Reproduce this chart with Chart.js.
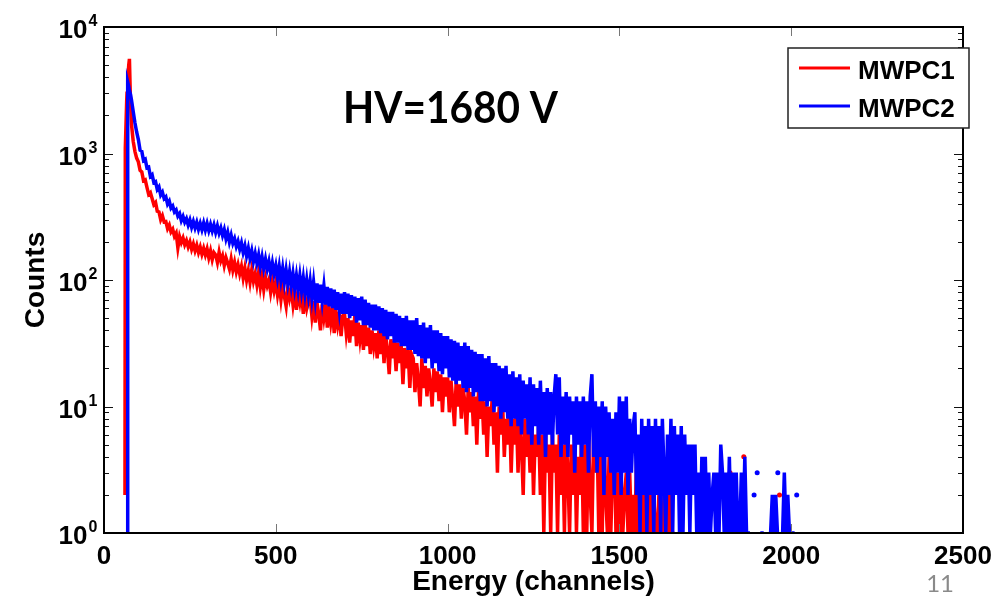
<!DOCTYPE html>
<html>
<head>
<meta charset="utf-8">
<script src="https://cdn.jsdelivr.net/npm/chart.js@4.4.1/dist/chart.umd.min.js"></script>
<style>
    html, body { margin: 0; padding: 0; background: #ffffff; }
    canvas { display: block; }
</style>
</head>
<body>
<canvas id="spectrum" width="1008" height="598"></canvas>
<script>
// channel grid (energy in channels), finer around the peak, then every 5 channels
const channels = [
    61, 62, 66, 67, 69, 72, 74, 77, 80, 85, 90, 95,
    100, 105, 110, 115, 120, 125, 130, 135, 140, 145, 150, 155, 160, 165, 170, 175, 180, 185, 190, 195,
    200, 205, 210, 215, 220, 225, 230, 235, 240, 245, 250, 255, 260, 265, 270, 275, 280, 285, 290, 295,
    300, 305, 310, 315, 320, 325, 330, 335, 340, 345, 350, 355, 360, 365, 370, 375, 380, 385, 390, 395,
    400, 405, 410, 415, 420, 425, 430, 435, 440, 445, 450, 455, 460, 465, 470, 475, 480, 485, 490, 495,
    500, 505, 510, 515, 520, 525, 530, 535, 540, 545, 550, 555, 560, 565, 570, 575, 580, 585, 590, 595,
    600, 605, 610, 615, 620, 625, 630, 635, 640, 645, 650, 655, 660, 665, 670, 675, 680, 685, 690, 695,
    700, 705, 710, 715, 720, 725, 730, 735, 740, 745, 750, 755, 760, 765, 770, 775, 780, 785, 790, 795,
    800, 805, 810, 815, 820, 825, 830, 835, 840, 845, 850, 855, 860, 865, 870, 875, 880, 885, 890, 895,
    900, 905, 910, 915, 920, 925, 930, 935, 940, 945, 950, 955, 960, 965, 970, 975, 980, 985, 990, 995,
    1000, 1005, 1010, 1015, 1020, 1025, 1030, 1035, 1040, 1045, 1050, 1055, 1060, 1065, 1070, 1075, 1080, 1085, 1090, 1095,
    1100, 1105, 1110, 1115, 1120, 1125, 1130, 1135, 1140, 1145, 1150, 1155, 1160, 1165, 1170, 1175, 1180, 1185, 1190, 1195,
    1200, 1205, 1210, 1215, 1220, 1225, 1230, 1235, 1240, 1245, 1250, 1255, 1260, 1265, 1270, 1275, 1280, 1285, 1290, 1295,
    1300, 1305, 1310, 1315, 1320, 1325, 1330, 1335, 1340, 1345, 1350, 1355, 1360, 1365, 1370, 1375, 1380, 1385, 1390, 1395,
    1400, 1405, 1410, 1415, 1420, 1425, 1430, 1435, 1440, 1445, 1450, 1455, 1460, 1465, 1470, 1475, 1480, 1485, 1490, 1495,
    1500, 1505, 1510, 1515, 1520, 1525, 1530, 1535, 1540, 1545, 1550, 1555, 1560, 1565, 1570, 1575, 1580, 1585, 1590, 1595,
    1600, 1605, 1610, 1615, 1620, 1625, 1630, 1635, 1640, 1645, 1650, 1655, 1660, 1665, 1670, 1675, 1680, 1685, 1690, 1695,
    1700, 1705, 1710, 1715, 1720, 1725, 1730, 1735, 1740, 1745, 1750, 1755, 1760, 1765, 1770, 1775, 1780, 1785, 1790, 1795,
    1800, 1805, 1810, 1815, 1820, 1825, 1830, 1835, 1840, 1845, 1850, 1855, 1860, 1865, 1870, 1875, 1880, 1885, 1890, 1895,
    1900, 1905, 1910, 1915, 1920, 1925, 1930, 1935, 1940, 1945, 1950, 1955, 1960, 1965, 1970, 1975, 1980, 1985, 1990, 1995,
    2000, 2005, 2010, 2015, 2020
];

// MWPC1 counts per channel
const mwpc1 = [
    2, 1100, 2600, 3000, 3800, 5000, 5600, 2600, 1700, 1250, 1040, 920,
    860, 735, 715, 610, 620, 540, 475, 490, 440, 395, 410, 350, 345, 300, 322, 288, 290, 255, 272, 240,
    252, 222, 235, 180, 220, 198, 215, 190, 205, 183, 200, 175, 193, 170, 188, 165, 182, 160, 178, 158,
    176, 150, 170, 145, 165, 158, 138, 166, 142, 155, 130, 150, 136, 122, 146, 120, 138, 116, 132, 112,
    128, 104, 124, 100, 118, 96, 120, 98, 112, 92, 114, 88, 108, 84, 104, 90, 100, 80, 98, 82,
    96, 76, 92, 70, 90, 74, 62, 88, 72, 84, 64, 82, 58, 78, 66, 80, 54, 74, 60, 70,
    72, 52, 68, 46, 66, 54, 40, 64, 50, 62, 42, 60, 46, 58, 38, 56, 44, 54, 36, 52,
    54, 38, 50, 32, 48, 36, 52, 30, 46, 34, 44, 28, 46, 30, 42, 26, 40, 30, 38, 24,
    40, 26, 38, 22, 36, 28, 18, 34, 24, 33, 19, 32, 22, 30, 15, 29, 20, 28, 14, 26,
    24, 13, 22, 16, 10, 24, 14, 21, 12, 20, 15, 10, 20, 13, 19, 11, 18, 9, 17, 12,
    17, 9, 16, 11, 7, 16, 10, 15, 8, 14, 11, 6, 14, 9, 13, 7, 12, 5, 13, 8,
    12, 6, 11, 4, 10, 7, 12, 5, 9, 3, 10, 6, 11, 4, 8, 5, 10, 3, 8, 5,
    9, 3, 8, 5, 2, 8, 4, 7, 3, 8, 2, 6, 4, 7, 2, 6, 1, 6, 3, 5,
    1, 6, 3, 5, 1, 6, 2, 5, 1, 6, 3, 1, 5, 2, 6, 1, 4, 2, 6, 1,
    5, 1, 6, 2, 1, 6, 3, 6, 1, 5, 1, 6, 2, 1, 4, 1, 3, 6, 1, 3,
    1, 3, 1, 2, 3, 1, 3, 1, 2, 1, 4, 1, 2, 1, 3, 1, 2, 1, 2, 1,
    2, 1, 1, 2, 1, 1, 2, 1, 1, 2, 1, 1, 1, null, null, null, null, null, null, null,
    null, null, null, null, null, null, null, null, null, null, null, null, null, null, null, null, null, null, null, null,
    null, null, null, null, null, null, null, null, null, null, null, null, null, null, null, null, null, null, null, null,
    null, null, null, null, null, null, null, null, null, null, null, null, null, null, null, null, null, null, null, null,
    null, null, null, null, null
];

// MWPC2 counts per channel
const mwpc2 = [
    null, null, null, 1, 3670, 3400, 3150, 2950, 2650, 2150, 1750, 1480,
    1290, 1060, 1040, 880, 900, 770, 780, 660, 680, 590, 600, 520, 545, 470, 495, 440, 455, 398, 420, 370,
    385, 345, 358, 320, 335, 295, 318, 286, 305, 272, 298, 262, 290, 258, 286, 252, 280, 250, 282, 248,
    280, 246, 275, 244, 272, 238, 268, 235, 258, 225, 250, 212, 238, 200, 226, 195, 212, 184, 202, 175,
    196, 165, 186, 155, 178, 148, 170, 140, 162, 136, 158, 128, 152, 124, 146, 122, 140, 114, 136, 112,
    130, 104, 128, 100, 124, 96, 120, 94, 116, 90, 112, 86, 108, 84, 108, 82, 104, 78, 100, 76,
    98, 72, 96, 70, 94, 66, 92, 68, 90, 64, 88, 62, 86, 60, 84, 58, 80, 58, 78, 54,
    80, 54, 78, 50, 76, 52, 74, 46, 72, 48, 74, 44, 70, 44, 66, 42, 64, 40, 64, 40,
    62, 38, 60, 36, 58, 34, 56, 36, 56, 32, 54, 32, 52, 30, 50, 30, 52, 28, 48, 28,
    48, 26, 50, 25, 44, 24, 46, 22, 42, 24, 44, 20, 40, 22, 40, 19, 38, 18, 36, 20,
    36, 17, 34, 16, 33, 15, 32, 16, 30, 14, 32, 13, 30, 14, 28, 12, 27, 13, 26, 11,
    26, 11, 24, 10, 25, 11, 22, 9, 22, 10, 21, 8, 20, 9, 21, 8, 18, 7, 19, 8,
    17, 7, 18, 6, 16, 8, 15, 6, 17, 5, 15, 7, 14, 5, 16, 6, 13, 4, 14, 6,
    13, 5, 12, 18, 6, 17, 4, 12, 5, 13, 4, 12, 6, 11, 3, 12, 5, 11, 4, 12,
    5, 11, 3, 12, 18, 4, 11, 3, 10, 4, 11, 2, 10, 4, 9, 3, 8, 2, 9, 3,
    12, 2, 11, 3, 12, 2, 8, 3, 7, 9, 2, 6, 1, 8, 2, 7, 1, 8, 2, 7,
    1, 8, 2, 7, 1, 8, 3, 1, 6, 2, 8, 1, 7, 2, 6, 1, 7, 1, 6, 2,
    5, 1, 5, 2, 5, 1, 3, 1, 4, 1, 4, 1, 3, 1, 2, 3, 1, 3, 1, 5,
    3, 1, 3, 1, 4, 1, 3, 1, 3, 1, 1, 3, 1, 4, 1, 1, 1, null, null, null,
    null, null, 1, 1, 1, null, null, 1, 1, 2, 1, 2, 1, null, 1, 1, 3, 1, 2, 1,
    1, 1, 1, null, null
];

// isolated single-channel counts in the tail: [channel, counts]
const mwpc1Dots = [[1822, 3], [1862, 4], [1966, 2]];
const mwpc2Dots = [[1892, 2], [1901, 3], [1961, 3], [2016, 2]];

const xTicks = [0, 500, 1000, 1500, 2000, 2500];
const yDecades = [1, 10, 100, 1000, 10000];
const yExponents = ['0', '1', '2', '3', '4'];

const legendLabels = ['MWPC1', 'MWPC2'];
const RED = '#ff0000';
const BLUE = '#0000ff';

function toPoints(values) {
    return channels.map((c, i) => ({ x: c, y: values[i] }));
}

function dotPoints(pairs) {
    return pairs.map(p => ({ x: p[0], y: p[1] }));
}

const frame = {
    id: 'frame',
    afterDraw(chart) {
        const ctx = chart.ctx;
        const area = chart.chartArea;
        const xs = chart.scales.x;
        const ys = chart.scales.y;
        ctx.save();

        // y ticks (major + minor, both sides, pointing in)
        ctx.strokeStyle = '#111';
        ctx.lineWidth = 1;
        yDecades.forEach((d, i) => {
            const y = Math.round(ys.getPixelForValue(d)) + 0.5;
            ctx.beginPath();
            ctx.moveTo(area.left, y); ctx.lineTo(area.left + 9, y);
            ctx.moveTo(area.right, y); ctx.lineTo(area.right - 9, y);
            ctx.stroke();
            if (i < yDecades.length - 1) {
                for (let k = 2; k <= 9; k++) {
                    const ym = Math.round(ys.getPixelForValue(d * k)) + 0.5;
                    ctx.beginPath();
                    ctx.moveTo(area.left, ym); ctx.lineTo(area.left + 5, ym);
                    ctx.moveTo(area.right, ym); ctx.lineTo(area.right - 5, ym);
                    ctx.stroke();
                }
            }
        });

        // x ticks (top and bottom)
        ctx.strokeStyle = '#777';
        xTicks.forEach(v => {
            const x = Math.round(xs.getPixelForValue(v)) + 0.5;
            ctx.beginPath();
            ctx.moveTo(x, area.bottom); ctx.lineTo(x, area.bottom - 9);
            ctx.moveTo(x, area.top); ctx.lineTo(x, area.top + 9);
            ctx.stroke();
        });

        // box
        ctx.strokeStyle = '#000';
        ctx.lineWidth = 2;
        ctx.strokeRect(area.left, area.top, area.right - area.left, area.bottom - area.top);

        // y tick labels 10^n
        ctx.fillStyle = '#000';
        ctx.textBaseline = 'alphabetic';
        yDecades.forEach((d, i) => {
            const y = ys.getPixelForValue(d);
            ctx.font = 'bold 26px "Liberation Sans", Arial, sans-serif';
            ctx.textAlign = 'right';
            ctx.fillText('10', 87.5, y + 11);
            ctx.font = 'bold 16px "Liberation Sans", Arial, sans-serif';
            ctx.textAlign = 'left';
            ctx.fillText(yExponents[i], 88.5, y - 1);
        });

        // x tick labels
        ctx.font = 'bold 26px "Liberation Sans", Arial, sans-serif';
        ctx.textAlign = 'center';
        xTicks.forEach(v => {
            ctx.fillText(String(v), xs.getPixelForValue(v), area.bottom + 31);
        });

        // axis titles
        ctx.font = 'bold 28px "Liberation Sans", Arial, sans-serif';
        ctx.fillText('Energy (channels)', (area.left + area.right) / 2, 590);
        ctx.save();
        ctx.translate(44, (area.top + area.bottom) / 2);
        ctx.rotate(-Math.PI / 2);
        ctx.fillText('Counts', 0, 0);
        ctx.restore();

        // legend box
        ctx.fillStyle = '#fff';
        ctx.fillRect(788, 48, 181, 80);
        ctx.strokeStyle = '#222';
        ctx.lineWidth = 1.5;
        ctx.strokeRect(788, 48, 181, 80);
        [RED, BLUE].forEach((col, i) => {
            const ly = i === 0 ? 68 : 106;
            ctx.strokeStyle = col;
            ctx.lineWidth = 3;
            ctx.beginPath();
            ctx.moveTo(799, ly); ctx.lineTo(850, ly);
            ctx.stroke();
            ctx.fillStyle = '#000';
            ctx.font = 'bold 26px "Liberation Sans", Arial, sans-serif';
            ctx.textAlign = 'left';
            ctx.fillText(legendLabels[i], 858, ly + 11);
        });

        // annotation
        ctx.font = 'bold 43px Lato, "Open Sans", sans-serif';
        ctx.textAlign = 'left';
        const label = 'HV=1680 V';
        const w = ctx.measureText(label).width;
        ctx.save();
        ctx.translate(343, 123);
        ctx.scale(215 / w, 1);
        ctx.fillStyle = '#000';
        ctx.fillText(label, 0, 0);
        ctx.restore();

        // slide number
        ctx.font = '24px Lato, "Open Sans", sans-serif';
        ctx.fillStyle = '#8a8a8a';
        ctx.textAlign = 'right';
        ctx.fillText('11', 954, 592);

        ctx.restore();
    }
};

const chart = new Chart(document.getElementById('spectrum'), {
    type: 'line',
    data: {
        datasets: [
            {
                label: legendLabels[0],
                data: toPoints(mwpc1),
                borderColor: RED,
                borderWidth: 3.5,
                pointRadius: 0,
                spanGaps: false,
                order: 2
            },
            {
                label: legendLabels[1],
                data: toPoints(mwpc2),
                borderColor: BLUE,
                borderWidth: 3.5,
                pointRadius: 0,
                spanGaps: false,
                order: 1
            },
            {
                label: 'MWPC1 single',
                data: dotPoints(mwpc1Dots),
                showLine: false,
                pointRadius: 2.5,
                pointBorderWidth: 0,
                pointBackgroundColor: RED,
                order: 2
            },
            {
                label: 'MWPC2 single',
                data: dotPoints(mwpc2Dots),
                showLine: false,
                pointRadius: 2.5,
                pointBorderWidth: 0,
                pointBackgroundColor: BLUE,
                order: 1
            }
        ]
    },
    options: {
        responsive: false,
        animation: false,
        devicePixelRatio: 1,
        layout: {
            padding: { left: 104, right: 45, top: 27, bottom: 65 }
        },
        plugins: {
            legend: { display: false },
            tooltip: { enabled: false }
        },
        scales: {
            x: {
                type: 'linear',
                min: 0,
                max: 2500,
                display: false
            },
            y: {
                type: 'logarithmic',
                min: 1,
                max: 10000,
                display: false
            }
        }
    },
    plugins: [frame]
});
</script>
</body>
</html>
